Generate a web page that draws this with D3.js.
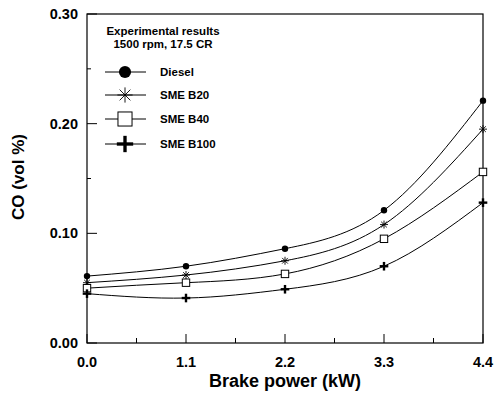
<!DOCTYPE html>
<html><head><meta charset="utf-8">
<script src="https://cdn.jsdelivr.net/npm/d3@7"></script>
<style>body{margin:0;background:#fff}svg{display:block}text{font-family:"Liberation Sans",Arial,sans-serif}</style>
</head><body><svg id="c" width="494" height="393"></svg>
<script>
const power = [0.0, 1.1, 2.2, 3.3, 4.4];
const xTickLabels = ["0.0", "1.1", "2.2", "3.3", "4.4"];
const yTicks = [0.00, 0.10, 0.20, 0.30];
const diesel = [0.061, 0.070, 0.086, 0.121, 0.221];
const b20 = [0.055, 0.062, 0.075, 0.108, 0.195];
const b40 = [0.050, 0.055, 0.063, 0.095, 0.156];
const b100 = [0.045, 0.041, 0.049, 0.070, 0.128];
const seriesNames = ["Diesel", "SME B20", "SME B40", "SME B100"];
const seriesValues = [diesel, b20, b40, b100];
const markers = ["dot", "star", "square", "plus"];

const svg = d3.select("#c");
const L = 87, R = 483, T = 14, B = 343;
const x = d3.scaleLinear().domain([0, 4.4]).range([L, R]);
const y = d3.scaleLinear().domain([0, 0.30]).range([B, T]);

svg.append("rect").attr("x", L).attr("y", T).attr("width", R - L).attr("height", B - T)
  .attr("fill", "none").attr("stroke", "#000").attr("stroke-width", 1.2);

const xMinor = d3.range(0, 9).map(i => i * 0.55);
svg.append("g").selectAll("line").data(xMinor).join("line")
  .attr("x1", d => x(d)).attr("x2", d => x(d))
  .attr("y1", B).attr("y2", (d, i) => B - (i % 2 === 0 ? 9 : 5))
  .attr("stroke", "#000").attr("stroke-width", 1);
svg.append("g").selectAll("text").data(power).join("text")
  .attr("x", d => x(d)).attr("y", 367).attr("text-anchor", "middle")
  .attr("font-size", 14.5).attr("font-weight", "bold")
  .text((d, i) => xTickLabels[i]);

const yMinor = d3.range(0, 7).map(i => i * 0.05);
svg.append("g").selectAll("line").data(yMinor).join("line")
  .attr("y1", d => y(d)).attr("y2", d => y(d))
  .attr("x1", L).attr("x2", (d, i) => L + (i % 2 === 0 ? 10 : 4))
  .attr("stroke", "#000").attr("stroke-width", 1);
svg.append("g").selectAll("text").data(yTicks).join("text")
  .attr("x", 78).attr("y", d => y(d) + 5).attr("text-anchor", "end")
  .attr("font-size", 14.5).attr("font-weight", "bold")
  .text(d => d.toFixed(2));

svg.append("text").attr("x", 285).attr("y", 387).attr("text-anchor", "middle")
  .attr("font-size", 18).attr("font-weight", "bold").text("Brake power (kW)");
svg.append("text").attr("transform", "translate(24,177) rotate(-90)").attr("text-anchor", "middle")
  .attr("font-size", 17).attr("font-weight", "bold").text("CO (vol %)");

const line = d3.line().x((d, i) => x(power[i])).y(d => y(d)).curve(d3.curveNatural);
svg.append("g").selectAll("path").data(seriesValues).join("path")
  .attr("d", line).attr("fill", "none").attr("stroke", "#000").attr("stroke-width", 1);

function drawMarker(g, type, cx, cy, s) {
  if (type === "dot") {
    g.append("circle").attr("cx", cx).attr("cy", cy).attr("r", 3.2 * s).attr("fill", "#000");
  } else if (type === "star") {
    const r = 4 * s;
    [0, 45, 90, 135].forEach(a => {
      const rad = a * Math.PI / 180;
      g.append("line").attr("x1", cx - r * Math.cos(rad)).attr("y1", cy - r * Math.sin(rad))
        .attr("x2", cx + r * Math.cos(rad)).attr("y2", cy + r * Math.sin(rad))
        .attr("stroke", "#000").attr("stroke-width", 0.9);
    });
  } else if (type === "square") {
    const h = 3.7 * s;
    g.append("rect").attr("x", cx - h).attr("y", cy - h).attr("width", 2 * h).attr("height", 2 * h)
      .attr("fill", "#fff").attr("stroke", "#000").attr("stroke-width", 1);
  } else {
    const h = 4.3 * s;
    const w = 2.4 * Math.min(s, 1.4);
    g.append("line").attr("x1", cx - h).attr("x2", cx + h).attr("y1", cy).attr("y2", cy)
      .attr("stroke", "#000").attr("stroke-width", w);
    g.append("line").attr("x1", cx).attr("x2", cx).attr("y1", cy - h).attr("y2", cy + h)
      .attr("stroke", "#000").attr("stroke-width", w);
  }
}
const mg = svg.append("g");
seriesValues.forEach((vals, si) => {
  vals.forEach((v, i) => drawMarker(mg, markers[si], x(power[i]), y(v), 1));
});

svg.append("text").attr("x", 163).attr("y", 35).attr("text-anchor", "middle")
  .attr("font-size", 11.5).attr("font-weight", "bold").text("Experimental results");
svg.append("text").attr("x", 163).attr("y", 48).attr("text-anchor", "middle")
  .attr("font-size", 11.5).attr("font-weight", "600").text("1500 rpm, 17.5 CR");
const lg = svg.append("g");
const legY = [72, 95, 119, 144];
seriesNames.forEach((n, i) => {
  lg.append("line").attr("x1", 105).attr("x2", 146).attr("y1", legY[i]).attr("y2", legY[i])
    .attr("stroke", "#000").attr("stroke-width", 1);
  drawMarker(lg, markers[i], 125, legY[i], 1.9);
  lg.append("text").attr("x", 160).attr("y", legY[i] + 4).attr("font-size", 11.5)
    .attr("font-weight", "bold").text(n);
});
</script></body></html>
